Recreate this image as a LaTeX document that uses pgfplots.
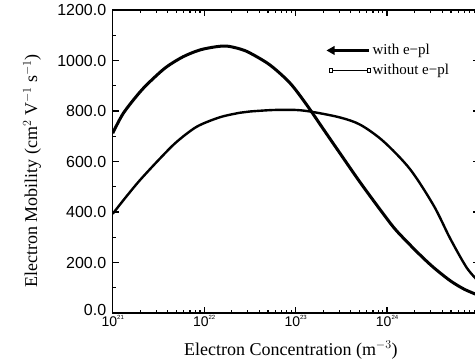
\documentclass[border=0pt]{standalone}
\usepackage{pgfplots}
\pgfplotsset{compat=1.18}
\usepackage{fontspec}
\setmainfont{Liberation Serif}
\newfontfamily\arial{Liberation Sans}
\newcommand{\xl}[1]{{\arial\fontsize{14}{14}\selectfont 10\raisebox{0.9ex}{\fontsize{6}{6}\selectfont #1}}}
\begin{document}
\begin{tikzpicture}
\path[use as bounding box] (0,0) rectangle (475pt,362pt);
\clip (0,0) rectangle (475pt,362pt);
\begin{axis}[
  at={(112.7pt,49pt)}, anchor=south west, scale only axis,
  width=365.8pt, height=303pt,
  xmode=log, xmin=1e21, xmax=1e25, ymin=0, ymax=1200,
  xtick={1e21,1e22,1e23,1e24,1e25},
  xticklabels={\xl{21},\xl{22},\xl{23},\xl{24},{}},
  ytick={0,200,400,600,800,1000,1200},
  yticklabels={\raisebox{7pt}{0.0},200.0,400.0,600.0,800.0,1000.0,1200.0},
  minor ytick={100,300,500,700,900,1100},
  tick align=inside, major tick length=6pt, minor tick length=3pt,
  axis line style={line width=1.5pt},
  tick style={line width=1.2pt, black},
  yticklabel style={font=\arial\fontsize{16}{16}\selectfont, xshift=-3pt},
  xticklabel style={yshift=1pt},
  xlabel={Electron Concentration (m$^{-3}$)},
  ylabel={Electron Mobility (cm$^{2}$ V$^{-1}$ s$^{-1}$)},
  label style={font=\fontsize{18}{18}\selectfont},
  xlabel style={at={(axis description cs:0.487,-0.122)}, anchor=center},
  ylabel style={at={(axis description cs:-0.2206,0.469)}, anchor=center},
  legend style={at={(0.58,0.90)}, anchor=north west, draw=none, fill=none,
    font=\fontsize{15}{15}\selectfont, row sep=4pt},
  legend cell align=left,
]
\addplot[black, line width=3pt, smooth,
  legend image code/.code={\draw[black, line width=2.4pt] (0pt,0pt) -- (38pt,0pt);
    \fill[black] (-1pt,0pt) -- (2.5pt,2pt) -- (2.5pt,-2pt) -- cycle;}]
coordinates {
(1e21,712) (1.306e21,791) (1.995e21,876) (2.78e21,929) (3.89e21,975)
(5.89e21,1015) (9.02e21,1042) (1.38e22,1055) (1.78e22,1057) (2.45e22,1046)
(3.16e22,1030) (5.25e22,982) (8.71e22,910) (1.318e23,825) (1.995e23,730)
(3.09e23,630) (5.13e23,515) (9.12e23,392) (1.26e24,327) (2.11e24,243)
(3.16e24,183) (4.90e24,128) (7.0e24,94) (1e25,70)
};
\addlegendentry{with e−pl}
\addplot[black, line width=2.4pt, smooth,
  legend image code/.code={\draw[black, line width=1.2pt] (0pt,0pt) -- (38pt,0pt);
    \draw[black, line width=0.8pt, fill=white] (-1.6pt,-1.6pt) rectangle (1.6pt,1.6pt);
    \draw[black, line width=0.8pt, fill=white] (36.4pt,-1.6pt) rectangle (39.6pt,1.6pt);}]
coordinates {
(1e21,393) (1.4e21,460) (1.995e21,527) (3.29e21,612) (5.01e21,678)
(8.32e21,738) (1.48e22,775) (2.45e22,793) (3.16e22,798) (5.75e22,804)
(1.02e23,804) (1.55e23,796) (3.09e23,774) (5.13e23,745) (9.12e23,680)
(1.78e24,570) (3.24e24,425) (4.90e24,295) (7.41e24,180) (1e25,125)
};
\addlegendentry{without e−pl}
\end{axis}
\end{tikzpicture}
\end{document}
